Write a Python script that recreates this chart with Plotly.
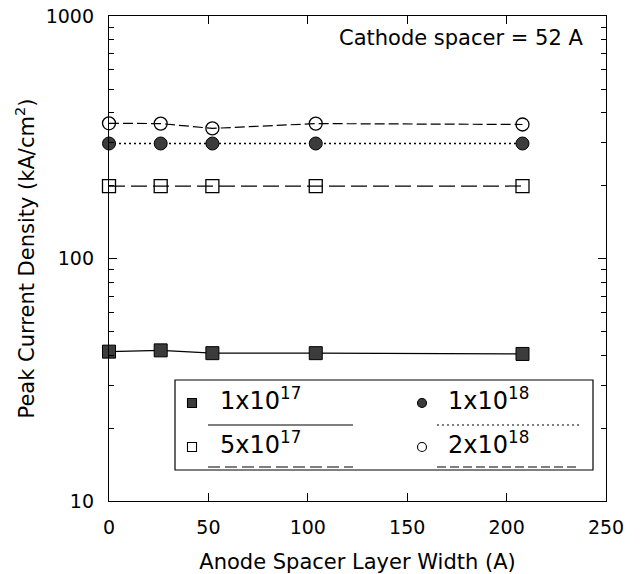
import plotly.graph_objects as go

# ---- data ----
anode_width = [0, 26, 52, 104, 208]
j_1e17 = [41.3, 41.8, 40.7, 40.7, 40.4]
j_5e17 = [199, 199, 199, 199, 199]
j_1e18 = [298, 298, 298, 298, 298]
j_2e18 = [361, 360, 344, 360, 357]

series_names = ["1x10<sup>17</sup>", "5x10<sup>17</sup>", "1x10<sup>18</sup>", "2x10<sup>18</sup>"]
x_ticks = [0, 50, 100, 150, 200, 250]
y_ticks = [10, 100, 1000]
y_minor = [20, 30, 40, 50, 60, 70, 80, 90, 200, 300, 400, 500, 600, 700, 800, 900]

FONT = "DejaVu Sans"
FILL = "#3c3c3c"

fig = go.Figure()

styles = [
    (j_1e17, dict(symbol="square", color=FILL, line=dict(color="black", width=1)), dict(color="black", width=1.3, dash="solid")),
    (j_5e17, dict(symbol="square-open", color="black", line=dict(color="black", width=1.3)), dict(color="black", width=1.2, dash="16px,6px")),
    (j_1e18, dict(symbol="circle", color=FILL, line=dict(color="black", width=1)), dict(color="black", width=1.5, dash="2px,3px")),
    (j_2e18, dict(symbol="circle-open", color="black", line=dict(color="black", width=1.3)), dict(color="black", width=1.2, dash="10px,4px")),
]
for (vals, mk, ln), name in zip(styles, series_names):
    fig.add_trace(go.Scatter(
        x=anode_width, y=vals, mode="lines+markers", name=name,
        marker=dict(size=13, **mk), line=ln, cliponaxis=False, showlegend=False,
    ))

# plot area in window pixels: x 109..606, y 16..501 (body margin removed below)
L, R, T, B = 109, 606, 16, 501
W, H = 640, 574
def px(x):
    return (x - L) / (R - L)
def py(y):
    return (B - y) / (B - T)

shapes = []
annotations = []

# legend box
shapes.append(dict(type="rect", xref="paper", yref="paper",
                   x0=px(175), x1=px(593), y0=py(470), y1=py(380),
                   line=dict(color="black", width=1.2), fillcolor="white", layer="above"))

leg = [
    # marker x, marker y, symbol, filled, text x, underline x0, x1, underline y, dash
    (192, 403, "rect", True, 218, 208, 353, 425, "solid"),
    (192, 447, "rect", False, 218, 208, 353, 467, "12px,5px"),
    (422, 403, "circle", True, 446, 437, 580, 425, "2px,3px"),
    (422, 447, "circle", False, 446, 437, 580, 467, "9px,4px"),
]
for (mx, my, shp, filled, tx, ux0, ux1, uy, dash), name in zip(leg, series_names):
    shapes.append(dict(type=shp, xref="paper", yref="paper", xsizemode="pixel", ysizemode="pixel",
                       xanchor=px(mx), yanchor=py(my), x0=-4.5, x1=4.5, y0=-4.5, y1=4.5,
                       line=dict(color="black", width=1.1), fillcolor=FILL if filled else "white",
                       layer="above"))
    shapes.append(dict(type="line", xref="paper", yref="paper",
                       x0=px(ux0), x1=px(ux1), y0=py(uy), y1=py(uy),
                       line=dict(color="black", width=1.1, dash=dash), layer="above"))
    annotations.append(dict(text=name, xref="paper", yref="paper", x=px(tx), y=py(my - 4),
                            xanchor="left", yanchor="middle", showarrow=False,
                            font=dict(family=FONT, size=24, color="black")))

annotations.append(dict(text="Cathode spacer = 52 A", xref="paper", yref="paper",
                        x=px(585), y=py(38), xanchor="right", yanchor="middle", showarrow=False,
                        font=dict(family=FONT, size=21, color="black")))

axis_common = dict(showline=True, linecolor="black", linewidth=1.3, mirror="ticks",
                   ticks="inside", ticklen=8, tickwidth=1.2, tickcolor="black",
                   showgrid=False, zeroline=False, ticklabeloverflow="allow", automargin=False,
                   tickfont=dict(family=FONT, size=19, color="black"))

fig.update_layout(
    width=W, height=H,
    margin=dict(l=L, r=W - R, t=T, b=H - B, autoexpand=False),
    paper_bgcolor="white", plot_bgcolor="white",
    showlegend=False,
    shapes=shapes, annotations=annotations,
    xaxis=dict(range=[0, 250], tickvals=x_ticks, ticklabelstandoff=9,
               title=dict(text="Anode Spacer Layer Width (A)", standoff=18,
                          font=dict(family=FONT, size=21, color="black")),
               **axis_common),
    yaxis=dict(type="log", range=[1, 3], tickvals=y_ticks, ticktext=[str(v) for v in y_ticks],
               ticklabelstandoff=10,
               minor=dict(tickvals=y_minor, ticks="inside", ticklen=5, tickcolor="black", tickwidth=1),
               title=dict(text="Peak Current Density (kA/cm<sup>2</sup>)", standoff=5,
                          font=dict(family=FONT, size=21, color="black")),
               **axis_common),
)

fig.write_html("out.html", config={"displayModeBar": False},
               post_script="document.body.style.margin='0';")
